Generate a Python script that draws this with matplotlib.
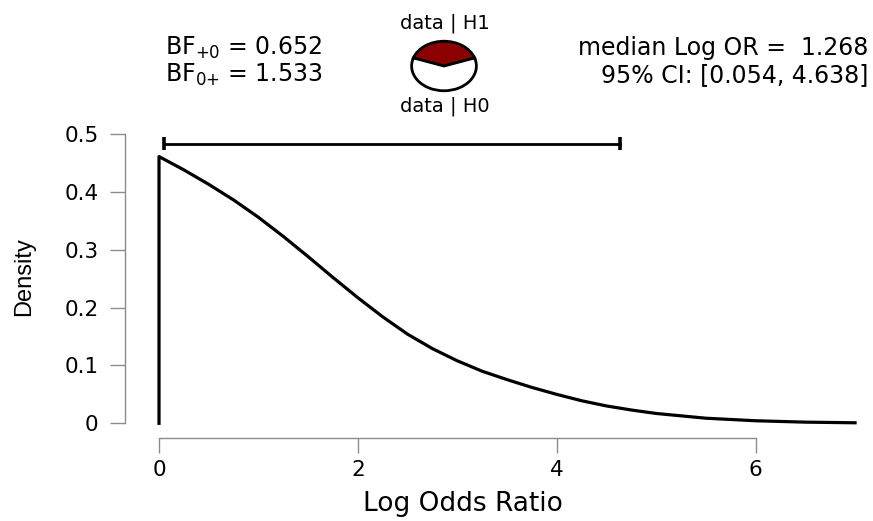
import numpy as np
import matplotlib
matplotlib.use("Agg")
import matplotlib.pyplot as plt

plt.rcParams['font.family'] = ['DejaVu Sans']
plt.rcParams['mathtext.fontset'] = 'custom'
plt.rcParams['mathtext.rm'] = 'DejaVu Sans'
plt.rcParams['mathtext.it'] = 'DejaVu Sans'

# posterior density
log_or = [0.0, 0.25, 0.5, 0.75, 1.0, 1.25, 1.5, 1.75, 2.0, 2.25, 2.5, 2.75,
          3.0, 3.25, 3.5, 3.75, 4.0, 4.25, 4.5, 4.75, 5.0, 5.5, 6.0, 6.5, 7.0]
density = [0.461, 0.438, 0.413, 0.386, 0.356, 0.323, 0.288, 0.252, 0.217,
           0.184, 0.154, 0.129, 0.108, 0.090, 0.0755, 0.062, 0.050, 0.039,
           0.030, 0.023, 0.017, 0.0088, 0.0044, 0.0020, 0.0009]

bf10 = 0.652
bf01 = 1.533
median_lor = 1.268
ci = [0.054, 4.638]
ci_height = 0.483

xticks = [0, 2, 4, 6]
yticks = [0, 0.1, 0.2, 0.3, 0.4, 0.5]
ytick_labels = ['0', '0.1', '0.2', '0.3', '0.4', '0.5']

W, H = 873, 521
fig = plt.figure(figsize=(W / 100, H / 100), dpi=100)

ax = fig.add_axes([125 / W, 83 / H, 740 / W, (438 - 134) / H])
ax.plot([0] + log_or, [0] + density, color='black', lw=2.3, clip_on=False,
        solid_joinstyle='round')

# credible interval bar
ax.plot(ci, [ci_height, ci_height], color='black', lw=2.0, clip_on=False)
for c in ci:
    ax.plot([c, c], [ci_height - 0.011, ci_height + 0.011], color='black',
            lw=2.6, clip_on=False, solid_capstyle='butt')

ax.set_xlim(-0.342, 7.1)
ax.set_ylim(-0.0254, 0.5)
for s in ['top', 'right']:
    ax.spines[s].set_visible(False)
ax.spines['left'].set_bounds(0, 0.5)
ax.spines['bottom'].set_bounds(0, 6)
for s in ['left', 'bottom']:
    ax.spines[s].set_color('#8c8c8c')
    ax.spines[s].set_linewidth(1.0)
ax.set_xticks(xticks)
ax.set_yticks(yticks)
ax.set_yticklabels(ytick_labels)
ax.tick_params(axis='both', direction='out', length=10.5, width=1.0,
               color='#8c8c8c', labelsize=15.5, labelcolor='black')
ax.tick_params(axis='y', pad=8.5)
ax.tick_params(axis='x', pad=5)
ax.set_xlabel('Log Odds Ratio', fontsize=19)
ax.xaxis.set_label_coords((463 - 125) / 740, (438 - 491) / 304)
ax.set_ylabel('Density', fontsize=17, family='Liberation Sans')
ax.yaxis.set_label_coords((35 - 125) / 740, (438 - 277) / 304)

# annotations above the plot
fig.text(165 / W, 1 - 48 / H, r'BF$_{\mathregular{+0}}$ = %.3f' % bf10,
         fontsize=17, ha='left', va='center')
fig.text(165 / W, 1 - 75 / H, r'BF$_{\mathregular{0{+}}}$ = %.3f' % bf01,
         fontsize=17, ha='left', va='center')
fig.text(868 / W, 1 - 48 / H, 'median Log OR =  %.3f' % median_lor,
         fontsize=17, ha='right', va='center')
fig.text(868 / W, 1 - 75 / H, '95%% CI: [%.3f, %.3f]' % (ci[0], ci[1]),
         fontsize=17, ha='right', va='center')
fig.text(445 / W, 1 - 23 / H, 'data | H1', fontsize=14, ha='center', va='center')
fig.text(445 / W, 1 - 106 / H, 'data | H0', fontsize=14, ha='center', va='center')

# probability wheel
pax = fig.add_axes([410 / W, 1 - 92 / H, 68 / W, 52 / H])
share = bf10 / (1 + bf10)
pax.pie([bf10, 1], colors=['darkred', 'white'], startangle=90 - share * 180,
        counterclock=True,
        wedgeprops=dict(edgecolor='black', linewidth=2.0))
pax.set_aspect('auto')
pax.set_xlim(-1.05, 1.05)
pax.set_ylim(-1.05, 1.05)
pax.axis('off')

fig.savefig('out.png', dpi=100)
